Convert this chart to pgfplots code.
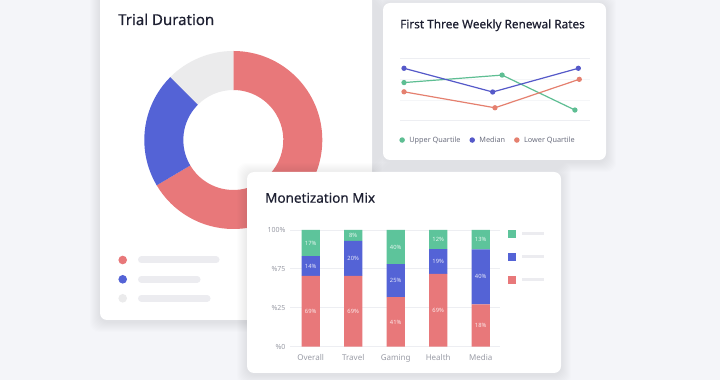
\documentclass[border=0pt]{standalone}
\usepackage{pgfplots}
\pgfplotsset{compat=1.18}
\usepackage{pgfplotstable}
\usepackage{fontspec}
\setmainfont{Noto Sans}
\newfontfamily\titlefont{Noto Sans}[FakeBold=0.35]
\definecolor{bg}{HTML}{F4F5F9}
\definecolor{cRed}{HTML}{E8787A}
\definecolor{cBlue}{HTML}{5463D6}
\definecolor{cGreen}{HTML}{5DC49B}
\definecolor{cGrey}{HTML}{EBEBEC}
\definecolor{lRed}{HTML}{E5806F}
\definecolor{lBlue}{HTML}{5559C9}
\definecolor{lGreen}{HTML}{5EBE93}
\definecolor{titlec}{HTML}{1E2032}
\definecolor{tickc}{HTML}{9A9CA6}
\definecolor{gridc}{HTML}{EDEEF2}
\definecolor{gridf}{HTML}{F5F6F8}
\definecolor{phg}{HTML}{ECECF0}
\definecolor{legc}{HTML}{6D7080}

% Donut shares (%), clockwise from top
\def\sRed{66.5}\def\sBlue{21}\def\sGrey{12.5}
\pgfmathsetmacro\aA{90}
\pgfmathsetmacro\aB{90-3.6*\sRed}
\pgfmathsetmacro\aC{\aB-3.6*\sBlue}
\pgfmathsetmacro\aD{\aC-3.6*\sGrey}

\pgfplotstableread{
x y
0 61.1
1.125 73.1
1.960 17.1
}\upperQ
\pgfplotstableread{
x y
0 84.0
1.017 46.0
1.999 84.0
}\medianQ
\pgfplotstableread{
x y
0 46.3
1.043 20.7
2.010 66.3
}\lowerQ

\pgfplotstableread{
x red blue green rl bl gl
0 60.6 17.1 22.3 69\% 14\% 17\%
1 60.6 30.0 9.4 69\% 20\% 8\%
2 42.4 28.3 29.3 41\% 25\% 40\%
3 62.3 21.4 16.3 69\% 19\% 12\%
4 36.3 47.1 16.6 18\% 40\% 13\%
}\bars

\newcommand\card[4]{%
  \foreach \i in {1,...,10}{\fill[black,opacity=0.006,rounded corners=9pt]
     ({(#1-\i)*1pt},{(#2-\i-2)*1pt}) rectangle ({(#3+\i)*1pt},{(#4+\i-1)*1pt});}
  \fill[white,rounded corners=7pt] (#1pt,#2pt) rectangle (#3pt,#4pt);}

\begin{document}
\begin{tikzpicture}
\useasboundingbox (0pt,0pt) rectangle (720pt,380pt);
\clip (0pt,0pt) rectangle (720pt,380pt);
\fill[bg] (0pt,0pt) rectangle (720pt,380pt);

% ---------- Trial Duration card ----------
\card{100}{60}{372}{392}
\node[anchor=base west,inner sep=0pt,text=titlec,font=\titlefont\fontsize{15}{18}\selectfont] at (118pt,355pt) {Trial Duration};
\begin{axis}[at={(233.3pt,240pt)},anchor=center,scale only axis,width=180pt,height=180pt,
  xmin=-90,xmax=90,ymin=-90,ymax=90,hide axis,clip=false]
\fill[cRed] (axis cs:{89*cos(\aA)},{89*sin(\aA)}) arc[start angle=\aA,end angle=\aB,radius=89pt]
   -- (axis cs:{50*cos(\aB)},{50*sin(\aB)}) arc[start angle=\aB,end angle=\aA,radius=50pt] -- cycle;
\fill[cBlue] (axis cs:{89*cos(\aB)},{89*sin(\aB)}) arc[start angle=\aB,end angle=\aC,radius=89pt]
   -- (axis cs:{50*cos(\aC)},{50*sin(\aC)}) arc[start angle=\aC,end angle=\aB,radius=50pt] -- cycle;
\fill[cGrey] (axis cs:{89*cos(\aC)},{89*sin(\aC)}) arc[start angle=\aC,end angle=\aD,radius=89pt]
   -- (axis cs:{50*cos(\aD)},{50*sin(\aD)}) arc[start angle=\aD,end angle=\aC,radius=50pt] -- cycle;
\end{axis}
% donut legend (placeholder labels)
\fill[cRed] (122.7pt,120pt) circle (4.3pt);
\fill[cBlue] (122.7pt,100.7pt) circle (4.3pt);
\fill[cGrey] (122.7pt,81.7pt) circle (4.3pt);
\draw[phg,line width=7pt,line cap=round] (141.5pt,120pt) -- (216pt,120pt);
\draw[phg,line width=7pt,line cap=round] (141.5pt,100.7pt) -- (197pt,100.7pt);
\draw[phg,line width=7pt,line cap=round] (141.5pt,81.7pt) -- (207pt,81.7pt);

% ---------- Weekly renewal card ----------
\card{383}{220}{606}{377}
\node[anchor=base west,inner sep=0pt,text=titlec,font=\titlefont\fontsize{11.8}{14}\selectfont] at (400pt,351.7pt) {First Three Weekly Renewal Rates};
\begin{axis}[at={(400pt,259.3pt)},anchor=south west,scale only axis,width=190pt,height=62.4pt,
  xmin=-0.046,xmax=2.133,ymin=0,ymax=100,
  axis line style={draw=none},tick style={draw=none},
  xtick=\empty,ytick={0,100},yticklabels={},
  minor ytick={33.33,66.67},
  ymajorgrids,yminorgrids,major grid style={gridc,line width=0.8pt},
  minor grid style={gridf,line width=0.7pt},
  clip=false,
  legend style={at={(-0.004,-0.31)},anchor=west,draw=none,fill=none,legend columns=3,
    font=\fontsize{7.3}{9}\selectfont,text=legc,inner sep=0pt,
    /tikz/every odd column/.append style={column sep=2.5pt},
    /tikz/every even column/.append style={column sep=7pt}},
  legend image code/.code={\fill[#1] (1.5pt,0pt) circle (2.1pt);},
  every axis plot/.append style={line width=1.2pt,mark=*,mark size=2pt,
     mark options={solid,draw=none}}]
\addplot[lGreen,mark options={fill=lGreen}] table[x=x,y=y]{\upperQ};
\addlegendentry{Upper Quartile}
\addplot[lBlue,mark options={fill=lBlue}] table[x=x,y=y]{\medianQ};
\addlegendentry{Median}
\addplot[lRed,mark options={fill=lRed}] table[x=x,y=y]{\lowerQ};
\addlegendentry{Lower Quartile}
\end{axis}

% ---------- Monetization card ----------
\card{247}{7}{561}{208}
\node[anchor=base west,inner sep=0pt,text=titlec,font=\titlefont\fontsize{13.5}{16}\selectfont] at (265pt,177.3pt) {Monetization Mix};
\begin{axis}[at={(290pt,33.3pt)},anchor=south west,scale only axis,width=210pt,height=116.7pt,
  xmin=-0.487,xmax=4.454,ymin=0,ymax=100,
  ybar stacked,bar width=18.3pt,
  axis line style={draw=none},tick style={draw=none},
  ytick={0,33.333,66.667,100},yticklabels={\%0,\%25,\%75,100\%},
  xtick={0,1,2,3,4},xticklabels={Overall,Travel,Gaming,Health,Media},
  ymajorgrids,major grid style={gridc,line width=0.8pt},
  yticklabel style={font=\fontsize{7}{8}\selectfont,text=tickc,xshift=-1pt},
  xticklabel style={font=\fontsize{8}{9}\selectfont,text=tickc,yshift=-4pt},
  point meta=explicit symbolic,
  nodes near coords,
  every node near coord/.append style={anchor=center,font=\fontsize{5.8}{6}\selectfont,
     text=white,text opacity=0.85},
  legend style={at={(1.035,1.005)},anchor=north west,draw=none,fill=none,
    row sep=15pt,inner sep=0pt,nodes={inner sep=0pt},
    /tikz/every odd column/.append style={column sep=6.5pt}},
  legend image code/.code={\fill[#1] (0pt,-4pt) rectangle (8pt,4pt);},
  reverse legend]
\addplot[fill=cRed,draw=none] table[x=x,y=red,meta=rl]{\bars};
\addlegendentry{\textcolor{phg}{\rule[-1pt]{22pt}{2.4pt}}}
\addplot[fill=cBlue,draw=none] table[x=x,y=blue,meta=bl]{\bars};
\addlegendentry{\textcolor{phg}{\rule[-1pt]{22pt}{2.4pt}}}
\addplot[fill=cGreen,draw=none] table[x=x,y=green,meta=gl]{\bars};
\addlegendentry{\textcolor{phg}{\rule[-1pt]{22pt}{2.4pt}}}
\end{axis}
\end{tikzpicture}
\end{document}
